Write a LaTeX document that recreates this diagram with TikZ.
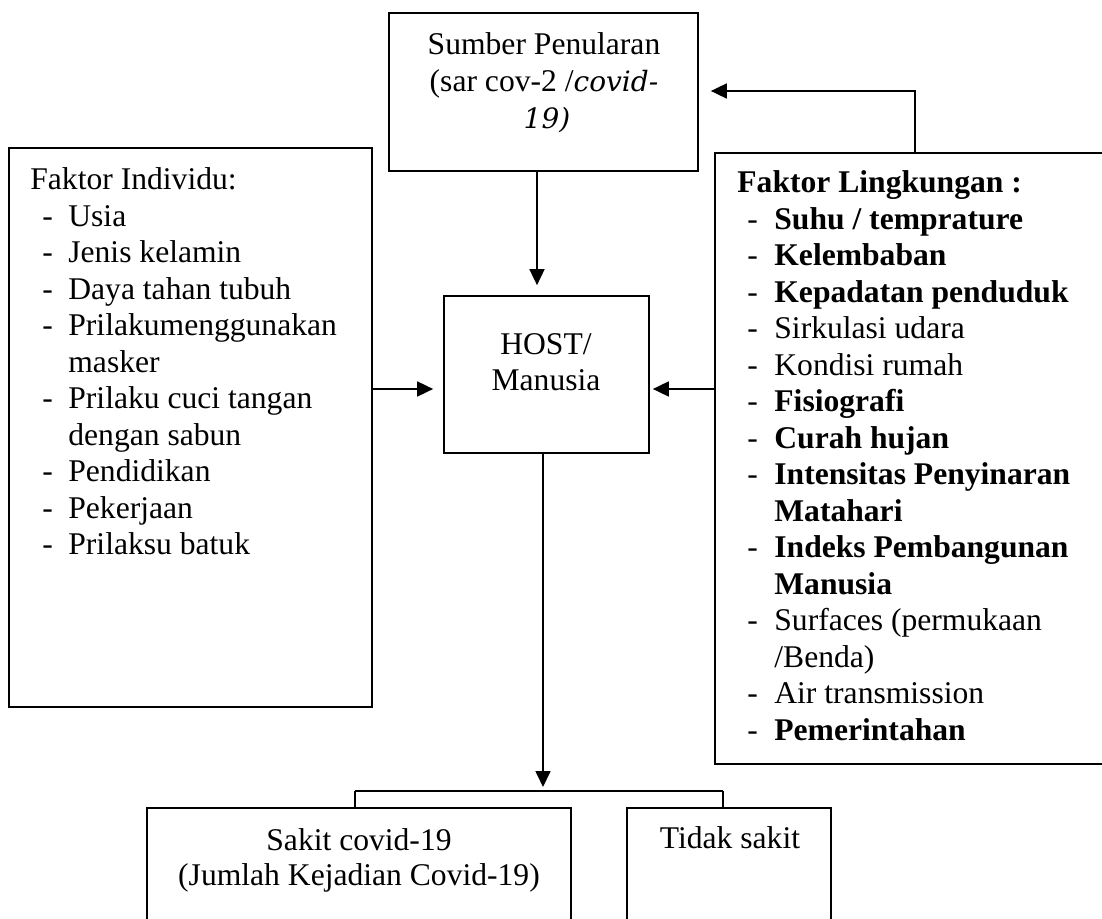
\documentclass[tikz,border=0pt]{standalone}
\usepackage{fontspec}
\setmainfont{Liberation Serif}
\newfontfamily\cambit{DejaVu Serif}
\usetikzlibrary{arrows.meta}
\newcommand\dsh{\makebox[13pt][l]{-}}
\newcommand\dshr{\makebox[13.5pt][l]{-}}
\begin{document}
\begin{tikzpicture}[x=0.5pt,y=-0.5pt,
  font=\fontsize{15.8pt}{18.25pt}\selectfont,
  box/.style={draw, line width=0.85pt, inner sep=0pt, rectangle},
  arr/.style={-{Triangle[length=8pt,width=7.5pt]}, line width=0.85pt},
  txt/.style={anchor=base, inner sep=0pt},
  lst/.style={anchor=base west, inner sep=0pt}]
\useasboundingbox (0,0) rectangle (1102,919);

% boxes
\node[box, minimum width=154.5pt, minimum height=79pt] (src) at (543.5,92) {};
\node[box, minimum width=102.5pt, minimum height=78.5pt] (host) at (546.5,374.5) {};
\node[box, minimum width=181.5pt, minimum height=279.5pt] (ind) at (190.5,427.5) {};
\node[box, minimum width=205pt, minimum height=305.5pt] (env) at (920,458.5) {};
\node[box, minimum width=212pt, minimum height=61pt] (sick) at (359,869) {};
\node[box, minimum width=102pt, minimum height=61pt] (notsick) at (729,869) {};

% texts
\node[txt] (src1) at (544,55) {Sumber Penularan};
\node[txt] (src2) at (544,92) {(sar cov-2 /{\cambit\itshape\fontsize{14pt}{17pt}\selectfont covid-}};
\node[txt] (src3) at (547,129) {\cambit\itshape\fontsize{14pt}{17pt}\selectfont 19)};

\node[txt] (h1) at (546,355) {HOST/};
\node[txt] (h2) at (546,390) {Manusia};

\node[lst] (indt) at (30,190) {\begin{tabular}[t]{@{\hspace{6pt}}l@{}l@{}}
\multicolumn{2}{@{}l@{}}{Faktor Individu:}\\
\dsh & Usia\\
\dsh & Jenis kelamin\\
\dsh & Daya tahan tubuh\\
\dsh & Prilakumenggunakan\\
 & masker\\
\dsh & Prilaku cuci tangan\\
 & dengan sabun\\
\dsh & Pendidikan\\
\dsh & Pekerjaan\\
\dsh & Prilaksu batuk
\end{tabular}};

\node[lst] (envt) at (737,193) {\begin{tabular}[t]{@{\hspace{5pt}}l@{}l@{}}
\multicolumn{2}{@{}l@{}}{\textbf{Faktor Lingkungan :}}\\
\dshr & \textbf{Suhu / temprature}\\
\dshr & \textbf{Kelembaban}\\
\dshr & \textbf{Kepadatan penduduk}\\
\dshr & Sirkulasi udara\\
\dshr & Kondisi rumah\\
\dshr & \textbf{Fisiografi}\\
\dshr & \textbf{Curah hujan}\\
\dshr & \textbf{Intensitas Penyinaran}\\
 & \textbf{Matahari}\\
\dshr & \textbf{Indeks Pembangunan}\\
 & \textbf{Manusia}\\
\dshr & Surfaces (permukaan\\
 & /Benda)\\
\dshr & Air transmission\\
\dshr & \textbf{Pemerintahan}
\end{tabular}};

\node[txt] (s1) at (359,850) {Sakit covid-19};
\node[txt] (s2) at (359,885) {(Jumlah Kejadian Covid-19)};
\node[txt] (t1) at (730,848) {Tidak sakit};

% connectors
\coordinate (ka) at (537,0);
\coordinate (km) at (0,389);
\coordinate (kb) at (543,0);
\coordinate (kbr) at (0,791);
\coordinate (bl) at (355,0);
\coordinate (br) at (723,0);
\coordinate (kc) at (915,91);

\draw[arr, shorten >=5pt] (src.south -| ka) -- (host.north -| ka);
\draw[arr, shorten >=5pt] (ind.east |- km) -- (host.west |- km);
\draw[arr, shorten >=1.5pt] (env.west |- km) -- (host.east |- km);
\draw[arr, shorten >=2pt] (host.south -| kb) -- (kbr -| kb);
\draw[line width=0.85pt] (sick.north -| bl) -- (bl |- kbr);
\draw[line width=0.85pt] (br |- kbr) -- (notsick.north -| br);
\draw[line width=1.3pt] (bl |- kbr) -- (br |- kbr);
\draw[arr, shorten >=6pt] (env.north -| kc) -- (kc) -- (src.east |- kc);
\end{tikzpicture}
\end{document}
